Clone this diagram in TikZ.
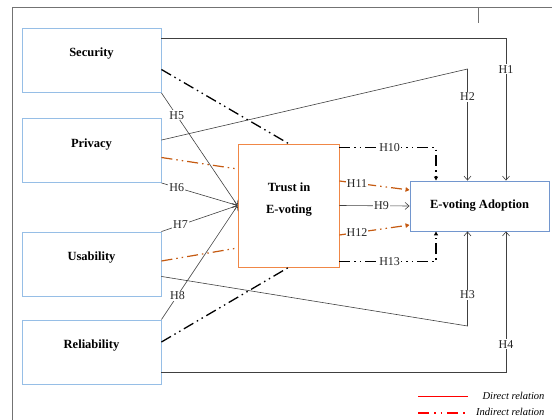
\documentclass[tikz,border=0pt]{standalone}
\usepackage{fontspec}
\setmainfont{Liberation Serif}
\usepackage{xcolor}
\usetikzlibrary{arrows.meta}

\definecolor{factorblue}{RGB}{150,190,230}
\definecolor{adoptblue}{RGB}{114,150,206}
\definecolor{trustorange}{RGB}{240,135,70}
\definecolor{indorange}{RGB}{197,90,17}

\begin{document}
\begin{tikzpicture}[x = 1pt, y = -1pt, font = \fontsize{12}{14}\selectfont,
    factor/.style = {draw = factorblue, line width = 0.9pt, minimum width = 139pt, minimum height = 64pt,
        inner sep = 0pt, font = \fontsize{12.5}{14}\selectfont\bfseries, text height = 9pt, text depth = 16pt},
    direct/.style = {draw = black!75, line width = 0.6pt},
    directarr/.style = {direct, -{Straight Barb[length = 4pt, width = 7pt]}},
    indirect/.style = {line width = 1.3pt, dash pattern = on 11pt off 4pt on 1.5pt off 4pt on 1.5pt off 4pt},
    hlabel/.style = {fill = white, inner sep = 1pt, text = black!85}]

    \useasboundingbox (0,0) rectangle (552,420);

    % frame
    \draw[black!55, line width = 1pt] (12,420) -- (12,8) -- (552,8);
    \draw[black!55, line width = 0.6pt] (478,8) -- (478,23);

    % constructs
    \node[factor] (sec) at (91.5,60.5) {Security};
    \node[factor] (prv) at (91.5,150.5) {Privacy};
    \node[factor] (use) at (91.5,264) {Usability};
    \node[factor] (rel) at (91.5,352) {Reliability};

    \node[draw = trustorange, line width = 0.9pt, minimum width = 101pt, minimum height = 123pt] (trust) at (288.5,205.5) {};
    \node[align = center, font = \fontsize{12.5}{14}\selectfont\bfseries] (trusttxt) at (289,199.5) {Trust in\\[8pt]E-voting};

    \node[draw = adoptblue, line width = 0.9pt, minimum width = 139pt, minimum height = 50pt,
        font = \fontsize{12.5}{14}\selectfont\bfseries] (adopt) at (479.5,206) {E-voting Adoption};

    % direct paths to adoption
    \coordinate (k2) at (467.5,69);
    \coordinate (k3) at (467.5,326);
    \draw[directarr] ([yshift = -10pt]sec.north east) -| ([xshift = 26.5pt]adopt.north) node[hlabel, pos = 0.61] (h1) {H1};
    \draw[directarr] ([yshift = -22pt]prv.north east) -- (k2) -- ([xshift = -12pt]adopt.north) node[hlabel, pos = 0.25] (h2) {H2};
    \draw[directarr] ([yshift = 20pt]use.south east) -- (k3) -- ([xshift = -12pt]adopt.south) node[hlabel, pos = 0.33] (h3) {H3};
    \draw[directarr] ([yshift = 12pt]rel.south east) -| ([xshift = 26.5pt]adopt.south) node[hlabel, pos = 0.6] (h4) {H4};

    % paths to trust
    \draw[directarr] (sec.south east) -- node[hlabel, pos = 0.2] (h5) {H5} (trust.west);
    \draw[directarr] (prv.south east) -- node[hlabel, pos = 0.2] (h6) {H6} (trust.west);
    \draw[directarr] (use.north east) -- node[hlabel, pos = 0.25] (h7) {H7} (trust.west);
    \draw[directarr] (rel.north east) -- node[hlabel, pos = 0.21] (h8) {H8} (trust.west);

    % indirect paths
    \draw[indirect] ([yshift = -9pt]sec.east) -- (trust.north);
    \draw[indirect] ([yshift = 10pt]rel.east) -- (trust.south);
    \draw[indirect, indorange, line width = 1.2pt] ([yshift = -7pt]prv.east) -- ([yshift = 36.5pt]trust.west);
    \draw[indirect, indorange, line width = 1.2pt] ([yshift = 3pt]use.east) -- ([yshift = -42.5pt]trust.west);

    % trust to adoption
    \draw[directarr] (trust.east) -- node[hlabel, pos = 0.6] (h9) {H9} (adopt.west);
    \draw[indirect, line width = 1.2pt, -{Triangle[length = 4pt, width = 4pt]}] ([yshift = -4pt]trust.north east) -| node[hlabel, pos = 0.26] (h10) {H10} ([xshift = -43.5pt]adopt.north);
    \draw[indirect, line width = 1.2pt, -{Triangle[length = 4pt, width = 4pt]}] ([yshift = 6pt]trust.south east) -| node[hlabel, pos = 0.26] (h13) {H13} ([xshift = -43.5pt]adopt.south);
    \draw[indirect, indorange, line width = 1.2pt, -{Triangle[length = 4pt, width = 4.5pt]}] ([yshift = 24.5pt]trust.east) -- node[hlabel, pos = 0.25] (h11) {H11} ([yshift = 16pt]adopt.west);
    \draw[indirect, indorange, line width = 1.2pt, -{Triangle[length = 4pt, width = 4.5pt]}] ([yshift = -29.5pt]trust.east) -- node[hlabel, pos = 0.25] (h12) {H12} ([yshift = -19pt]adopt.west);

    % legend
    \coordinate (d1) at (418,396);
    \coordinate (d2) at (468,396);
    \coordinate (i1) at (418,413);
    \coordinate (i2) at (468,413);
    \draw[draw = red, line width = 1pt] (d1) -- (d2);
    \draw[draw = red, line width = 1.2pt, dash pattern = on 11pt off 5pt on 1.5pt off 5pt on 1.5pt off 5pt] (i1) -- (i2);
    \node[anchor = east, font = \fontsize{10.5}{12}\selectfont\itshape] (dlab) at (548,396) {Direct relation};
    \node[anchor = east, font = \fontsize{10.5}{12}\selectfont\itshape] (ilab) at (548,412) {Indirect relation};

\end{tikzpicture}
\end{document}
